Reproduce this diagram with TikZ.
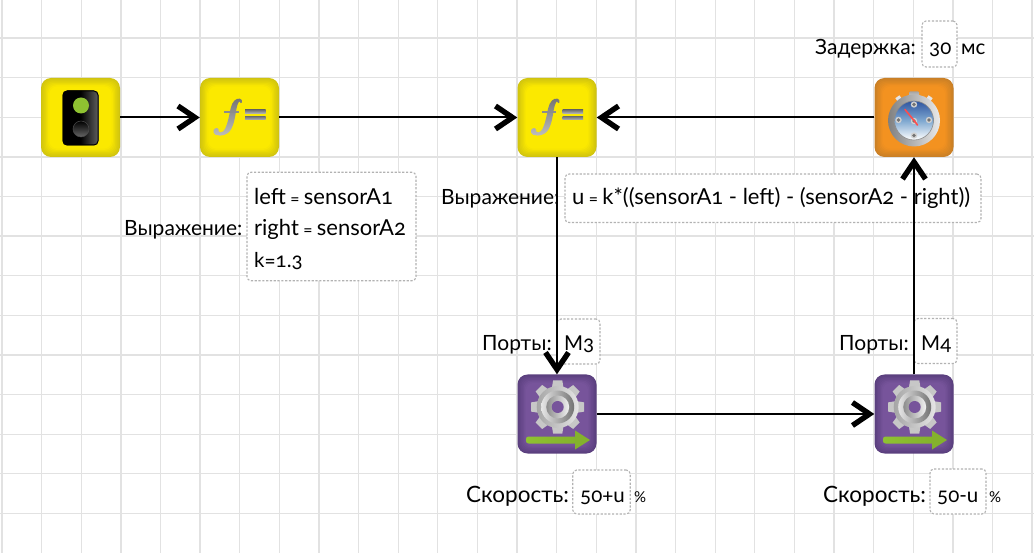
\documentclass[tikz,border=0pt]{standalone}
\usepackage{fontspec}
\setmainfont[Numbers=OldStyle]{Lato}
\usetikzlibrary{arrows.meta,calc}
\definecolor{gridc}{HTML}{E2E2E2}
\definecolor{yelE}{HTML}{D0C30F}\definecolor{yelI}{HTML}{FBE900}
\definecolor{orE}{HTML}{C97F26}\definecolor{orI}{HTML}{F39220}
\definecolor{puE}{HTML}{5A3F7E}\definecolor{puI}{HTML}{77549B}
\definecolor{greenI}{HTML}{8FC231}
\definecolor{dialT}{HTML}{2F55A0}\definecolor{dialM}{HTML}{7FA8D0}
\newcommand{\eqs}{\makebox[18pt]{\fontsize{17}{17}\selectfont =}}
\tikzset{
  x=1pt,y=-1pt,
  gridline/.style={gridc,line width=1.3pt},
  blockbox/.style={rectangle,rounded corners=10pt,minimum width=79pt,minimum height=79pt,inner sep=0pt},
  field/.style={rectangle,draw=black!30,dashed,dash pattern=on 2.2pt off 1.6pt,line width=1.1pt,fill=white,rounded corners=4pt,inner sep=0pt},
  lab/.style={anchor=base west,inner sep=0pt,font=\fontsize{21}{24}\selectfont,text=black},
  val/.style={lab,font=\fontsize{20.5}{24}\selectfont},
  expr/.style={lab,font=\fontsize{22}{24}\selectfont},
  speed/.style={lab,font=\fontsize{22.5}{24}\selectfont},
  unit/.style={lab,font=\fontsize{15}{18}\selectfont},
  conn/.style={line width=2pt,black,-{Straight Barb[length=17pt,width=23pt,line width=5.4pt]}},
}
\newcommand{\bevel}[3]{% node, edge, inner
  \foreach \i/\m in {1/15,2/30,3/45,4/60,5/75,6/90,7/100}{
    \fill[#3!\m!#2,rounded corners=8pt] ($(#1)+(-39.5+1.2*\i,-39.5+1.2*\i)$) rectangle ($(#1)+(39.5-1.2*\i,39.5-1.2*\i)$);
  }}
\newcommand{\lighticon}[1]{\begin{scope}[shift={(#1)}]
  \bevel{0,0}{yelE}{yelI}
  \path[rounded corners=5pt,left color=black,right color=black!62,middle color=black] (-18,-27) rectangle (18,28);
  \path[rounded corners=4pt,draw=black,line width=1pt] (-17.5,-26.5) rectangle (17.5,27.5);
  \fill[greenI] (0.5,-12) circle (8);
  \path[top color=black,bottom color=black!60,draw=black!70,line width=.5pt] (0.5,11.5) circle (8);
\end{scope}}
\newcommand{\ficon}[1]{\begin{scope}[shift={(#1)}]
  \bevel{0,0}{yelE}{yelI}
  \path[top color=black!55,bottom color=black!25]
    (2.5,-15) .. controls (3.5,-19.5) and (-2,-20) .. (-5,-17)
    .. controls (-9,-13) and (-9,-7) .. (-11,1)
    .. controls (-13,9) and (-15,15) .. (-19,15)
    .. controls (-21,15) and (-21,13) .. (-21,12)
    .. controls (-22,9) and (-27,11) .. (-26,15)
    .. controls (-25,19) and (-15,19.5) .. (-10,14)
    .. controls (-5,8) and (-4,-4) .. (-3,-9)
    .. controls (-2,-13) and (-1,-16) .. (0,-16)
    .. controls (0.5,-14) and (2,-14) .. (2.5,-15) -- cycle;
  \fill[black!45] (-15.5,-6.5) rectangle (-1,-4.5);
  \path[top color=black!55,bottom color=black!28] (5.5,-7.5) rectangle (26,-4);
  \path[top color=black!55,bottom color=black!28] (5.5,-1) rectangle (26,2.5);
\end{scope}}
\newcommand{\clockicon}[1]{\begin{scope}[shift={(#1)}]
  \bevel{0,0}{orE}{orI}
  \path[top color=black!35,bottom color=black!15,rounded corners=1pt] (-5,-26) rectangle (5,-19);
  \fill[black!10,rotate around={-35:(0,3)}] (-2.5,-26) rectangle (2.5,-21);
  \fill[black!10,rotate around={35:(0,3)}] (-2.5,-26) rectangle (2.5,-21);
  \path[left color=black!50,right color=black!8] (0,3) circle (26);
  \path[top color=dialT,bottom color=white,middle color=dialM,draw=black!45,line width=.6pt] (0,3) circle (19.5);
  \foreach \p in {(0,-13),(0,18),(-15.5,2.5),(15,2.5),(0,3.5)}{\fill[black!18] \p circle (3.2);\fill[black!55] \p circle (1.8);}
  \draw[red!70!white,line width=1.6pt,line cap=round] (-9,-8) -- (0,3) -- (3.5,7.5);
\end{scope}}
\newcommand{\motoricon}[1]{\begin{scope}[shift={(#1)}]
  \bevel{0,0}{puE}{puI}
  \begin{scope}[shift={(0.7,-7)}]
    \foreach \a in {0,45,...,315}{\path[rotate=\a,fill=black!22] (-4.6,-26.5) -- (4.6,-26.5) -- (6,-18) -- (-6,-18) -- cycle;}
    \path[left color=black!35,right color=black!10] (0,0) circle (21);
    \path[left color=black!10,right color=black!55] (0,0) circle (16.5);
    \path[left color=black!45,right color=black!5] (0,0) circle (11.5);
    \fill[puI] (0,0) circle (6);
  \end{scope}
  \path[left color=greenI,right color=greenI!92!black,rounded corners=2.5pt] (-31,22.5) rectangle (20,29.5);
  \path[fill=greenI!92!black] (18,16.5) -- (33,26) -- (18,35.5) -- cycle;
\end{scope}}
\begin{document}
\begin{tikzpicture}
\useasboundingbox (0,0) rectangle (1034,553);
% grid
\foreach \k in {0,...,26}{\draw[gridline] ({2+39.62*\k},0) -- ({2+39.62*\k},553);}
\foreach \k in {1,...,13}{\draw[gridline] (0,{-1.6+39.62*\k}) -- (1034,{-1.6+39.62*\k});}
% field boxes
\node[field,minimum width=35pt,minimum height=46pt] (fdelay) at (939.5,44) {};
\node[field,minimum width=169pt,minimum height=108.5pt] (fexpr1) at (331.5,226.5) {};
\node[field,minimum width=416pt,minimum height=48.5pt] (fexpr2) at (773,198.3) {};
\node[field,minimum width=43pt,minimum height=45pt] (fport1) at (578.5,341.5) {};
\node[field,minimum width=43pt,minimum height=45pt] (fport2) at (935.5,341) {};
\node[field,minimum width=57.5pt,minimum height=44pt] (fspeed1) at (601.5,492) {};
\node[field,minimum width=56pt,minimum height=45pt] (fspeed2) at (958,491.5) {};
% labels
\node[lab] (tdelay) at (815,55) {Задержка:};
\node[val] (vdelay) at (929,55) {30};
\node[val] (udelay) at (961,55) {мс};
\node[lab] (texpr1) at (124,236) {Выражение:};
\node[expr] (vexpr1a) at (254,205) {left\eqs sensorA1};
\node[expr] (vexpr1b) at (254,236) {right\eqs sensorA2};
\node[val] (vexpr1c) at (254,268) {k=1.3};
\node[lab] (texpr2) at (441,205) {Выражение:};
\node[expr] (vexpr2) at (572,205) {u\eqs k*((sensorA1 - left) - (sensorA2 - right))};
\node[lab] (tport1) at (482,351) {Порты:};
\node[val] (vport1) at (564,351) {M3};
\node[lab] (tport2) at (839,351) {Порты:};
\node[val] (vport2) at (921,351) {M4};
\node[speed] (tspeed1) at (466,502) {Скорость:};
\node[val] (vspeed1) at (580,502) {50+u};
\node[unit] (uspeed1) at (634,502) {\%};
\node[speed] (tspeed2) at (823,502) {Скорость:};
\node[val] (vspeed2) at (937,502) {50-u};
\node[unit] (uspeed2) at (989,502) {\%};
% blocks
\node[blockbox,fill=yelE] (start) at (80.5,117.5) {};
\node[blockbox,fill=yelE] (fa) at (239.5,117.5) {};
\node[blockbox,fill=yelE] (fb) at (557,117.5) {};
\node[blockbox,fill=orE] (clock) at (914,117.5) {};
\node[blockbox,fill=puE] (ma) at (557,414) {};
\node[blockbox,fill=puE] (mb) at (914,414) {};
% connectors
\draw[conn] (start) -- (fa);
\draw[conn] (fa) -- (fb);
\draw[conn] (clock) -- (fb);
\draw[conn] (fb) -- (ma);
\draw[conn] (ma) -- (mb);
\draw[conn] (mb) -- (clock);
% icons
\lighticon{start}
\ficon{fa}
\ficon{fb}
\clockicon{clock}
\motoricon{ma}
\motoricon{mb}
\end{tikzpicture}
\end{document}
